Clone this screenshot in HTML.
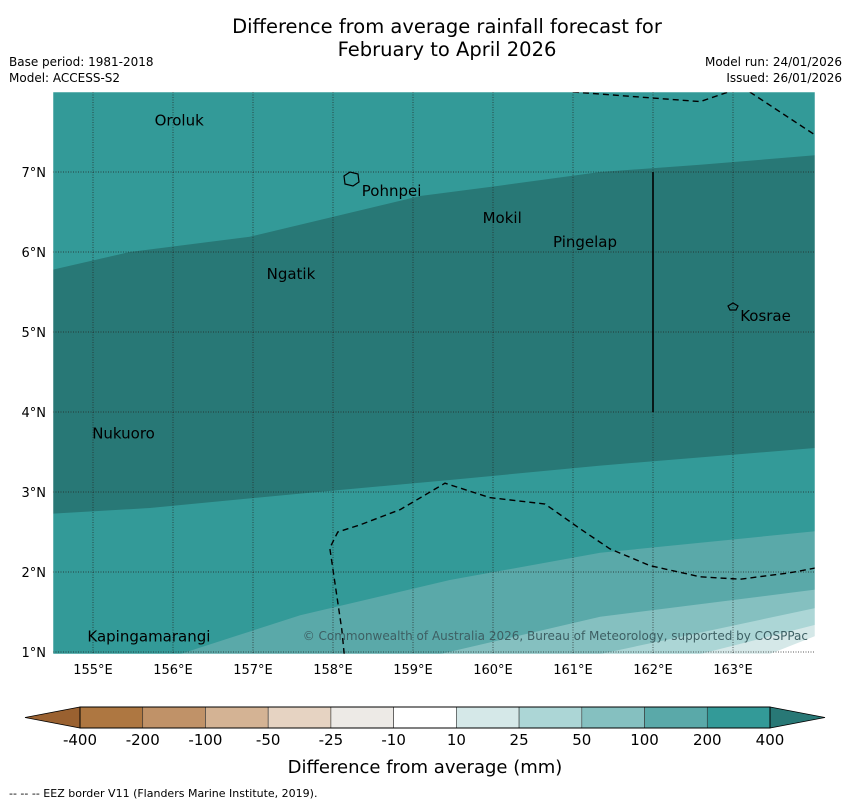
<!DOCTYPE html>
<html><head><meta charset="utf-8"><style>
body{margin:0;background:#fff;font-family:"Liberation Sans","DejaVu Sans",sans-serif;}
svg text{font-family:"DejaVu Sans","Liberation Sans",sans-serif;}
</style></head><body>
<svg id="c" width="850" height="804" xmlns="http://www.w3.org/2000/svg">
<text x="447" y="33" font-size="19.5" text-anchor="middle">Difference from average rainfall forecast for</text>
<text x="447" y="56" font-size="19.5" text-anchor="middle">February to April 2026</text>
<text x="9" y="66" font-size="12">Base period: 1981-2018</text>
<text x="9" y="82" font-size="12">Model: ACCESS-S2</text>
<text x="842" y="66" font-size="12" text-anchor="end">Model run: 24/01/2026</text>
<text x="842" y="82" font-size="12" text-anchor="end">Issued: 26/01/2026</text>
<g id="map"></g>
<g id="cb"></g>
<text x="425" y="773" font-size="18" text-anchor="middle">Difference from average (mm)</text>
<text x="9" y="797" font-size="11">--  --  -- EEZ border V11 (Flanders Marine Institute, 2019).</text>
</svg>
<script>
const lonTicks=[155,156,157,158,159,160,161,162,163];
const latTicks=[1,2,3,4,5,6,7];
const darkTopLon=[154.5,155.46,156.96,157.96,159.09,160.09,161.34,162.59,164.03];
const darkTopLat=[5.78,6.0,6.19,6.43,6.7,6.83,7.0,7.09,7.21];
const darkBotLon=[154.5,155.71,157.59,159.46,161.34,164.03];
const darkBotLat=[2.73,2.8,2.98,3.15,3.33,3.55];
const b100Lon=[156.09,157.59,159.46,161.34,164.03];
const b100Lat=[0.975,1.46,1.9,2.24,2.51];
const b50Lon=[159.34,161.34,164.03];
const b50Lat=[0.975,1.44,1.78];
const b25Lon=[161.34,164.03];
const b25Lat=[0.975,1.55];
const b10Lon=[162.59,164.03];
const b10Lat=[0.975,1.34];
const bwLon=[163.46,164.03];
const bwLat=[0.975,1.2];
const places=["Oroluk","Pohnpei","Mokil","Pingelap","Ngatik","Kosrae","Nukuoro","Kapingamarangi"];
const placeLon=[155.77,158.36,159.87,160.75,157.17,163.09,154.99,154.93];
const placeLat=[7.58,6.7,6.36,6.06,5.66,5.14,3.67,1.13];
const cbLabels=["-400","-200","-100","-50","-25","-10","10","25","50","100","200","400"];
const cbColors=["#ae7741","#c09268","#d4b394","#e6d3c2","#edeae6","#ffffff","#d5e8e8","#acd6d6","#85c0c0","#5aa9a9","#339a98"];
const eezTopLon=[161.0,162.59,163.0];
const eezTopLat=[8.0,7.88,8.02];
const eezTop2Lon=[163.21,164.03];
const eezTop2Lat=[8.0,7.46];
const eezLon=[158.14,158.11,157.96,158.06,158.34,158.84,159.4,159.96,160.65,161.09,161.46,161.96,162.59,163.09,163.71,164.03];
const eezLat=[0.975,1.28,2.3,2.5,2.59,2.78,3.11,2.93,2.85,2.54,2.29,2.08,1.94,1.91,1.99,2.05];

const X0=53,X1=815,Y0=92,Y1=654;
const x=l=>X0+(l-154.5)*80, y=a=>Y1-(a-0.975)*80;
const NS="http://www.w3.org/2000/svg";
const map=document.getElementById('map');
function mk(t,at,p){const e=document.createElementNS(NS,t);for(const k in at)e.setAttribute(k,at[k]);(p||map).appendChild(e);return e;}
const pts=(lo,la)=>lo.map((v,i)=>x(v).toFixed(1)+','+y(la[i]).toFixed(1));
let r=mk('rect',{x:X0,y:Y0,width:X1-X0,height:Y1-Y0,fill:'#339a98'});


const clip=mk('clipPath',{id:'mc'});mk('rect',{x:X0,y:Y0,width:X1-X0,height:Y1-Y0},clip);
const g=mk('g',{'clip-path':'url(#mc)'});
let dp=pts(darkTopLon,darkTopLat).concat(pts(darkBotLon.slice().reverse(),darkBotLat.slice().reverse()));
let d=mk('polygon',{points:dp.join(' '),fill:'#287876'},g);


const bands=[[b100Lon,b100Lat,'#5aa9a9','band-100-200'],[b50Lon,b50Lat,'#85c0c0','band-50-100'],[b25Lon,b25Lat,'#acd6d6','band-25-50'],[b10Lon,b10Lat,'#d5e8e8','band-10-25'],[bwLon,bwLat,'#ffffff','band-white']];
bands.forEach(b=>{const p=pts(b[0],b[1]);p.push(X1+5+','+(Y1+5));p.push(x(b[0][0])+','+(Y1+5));
 const e=mk('polygon',{points:p.join(' '),fill:b[2]},g);
 
 });
lonTicks.forEach(l=>{const e=mk('line',{x1:x(l),x2:x(l),y1:Y0,y2:Y1,stroke:'#222','stroke-width':0.7,'stroke-dasharray':'1,1.5'},g);
 
 
 const t=mk('text',{x:x(l),y:674,'font-size':13,'text-anchor':'middle'});t.textContent=l+'°E';
 
 });
latTicks.forEach(a=>{const e=mk('line',{x1:X0,x2:X1,y1:y(a),y2:y(a),stroke:'#222','stroke-width':0.7,'stroke-dasharray':'1,1.5'},g);
 
 
 const t=mk('text',{x:46,y:y(a)+5,'font-size':13,'text-anchor':'end'});t.textContent=a+'°N';
 
 });
[[eezTopLon,eezTopLat],[eezTop2Lon,eezTop2Lat],[eezLon,eezLat]].forEach(s=>{const e=mk('polyline',{points:pts(s[0],s[1]).join(' '),fill:'none',stroke:'#000','stroke-width':1.4,'stroke-dasharray':'6,4'},g);
 
 });
let vl=mk('line',{x1:x(162),x2:x(162),y1:y(7),y2:y(4),stroke:'#000','stroke-width':1.6},g);


let ph=mk('path',{d:'M344,176 l6,-4 l8,2 l1,8 l-6,4 l-8,-2 z',fill:'none',stroke:'#000','stroke-width':1.2},g);


let ks=mk('path',{d:'M728,306 l5,-3 l5,3 l-2,4 l-6,0 z',fill:'none',stroke:'#000','stroke-width':1.2},g);


places.forEach((n,i)=>{const t=mk('text',{x:x(placeLon[i]),y:y(placeLat[i]),'font-size':15},g);t.textContent=n;
 
 });
let cp=mk('text',{x:808,y:640,'font-size':12,'text-anchor':'end',fill:'#3d5f63'},g);cp.textContent='© Commonwealth of Australia 2026, Bureau of Meteorology, supported by COSPPac';


let fr=mk('rect',{x:X0,y:Y0,width:X1-X0,height:Y1-Y0,fill:'none',stroke:'#fff','stroke-width':0.5});


const cb=document.getElementById('cb');
const CX0=80,CX1=770,CY0=707,CY1=728,sw=(CX1-CX0)/cbColors.length;
let lt=mk('polygon',{points:`25,717.5 ${CX0},${CY0} ${CX0},${CY1}`,fill:'#9a6130',stroke:'#000','stroke-width':0.8},cb);


let rt=mk('polygon',{points:`825,717.5 ${CX1},${CY0} ${CX1},${CY1}`,fill:'#287876',stroke:'#000','stroke-width':0.8},cb);


cbColors.forEach((c,i)=>{const e=mk('rect',{x:CX0+i*sw,y:CY0,width:sw,height:CY1-CY0,fill:c,stroke:'#333','stroke-width':0.6},cb);
 
 });
let cbo=mk('rect',{x:CX0,y:CY0,width:CX1-CX0,height:CY1-CY0,fill:'none',stroke:'#000','stroke-width':1},cb);


cbLabels.forEach((l,i)=>{const t=mk('text',{x:CX0+i*sw,y:745,'font-size':15,'text-anchor':'middle'},cb);t.textContent=l;
 
 });
</script>
</body></html>
